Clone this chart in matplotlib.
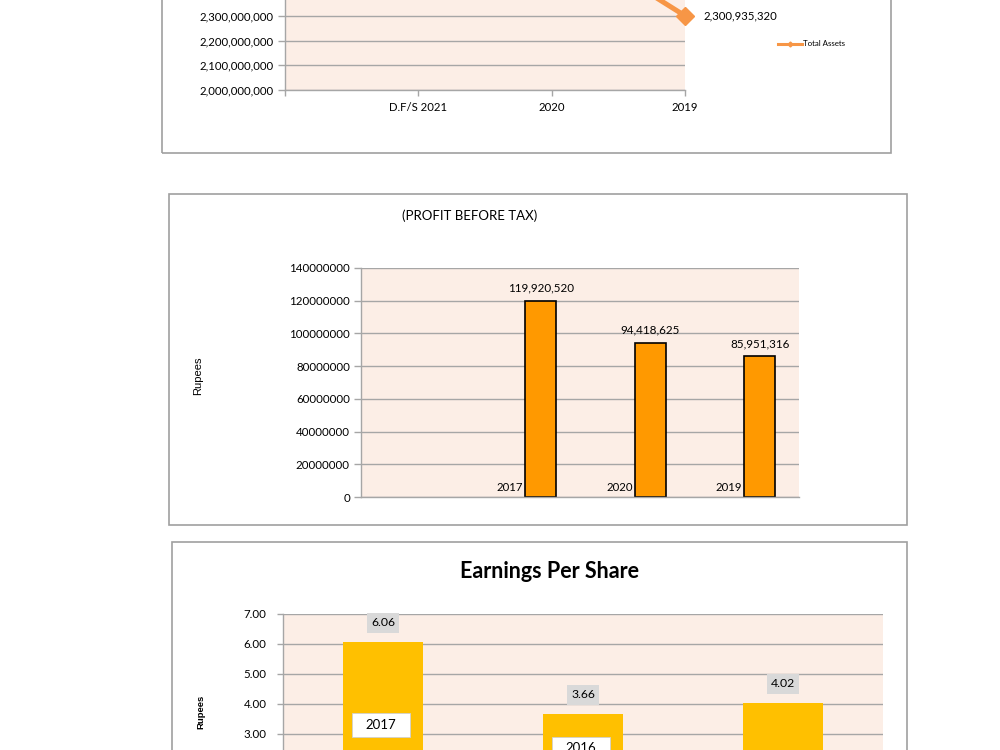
import numpy as np
import matplotlib
matplotlib.use('Agg')
from matplotlib import pyplot as plt
from matplotlib.patches import Rectangle
from matplotlib.lines import Line2D
from matplotlib.ticker import FuncFormatter

# --- data ---
asset_years = ['D.F/S 2021', '2020', '2019']
asset_values = [2950000000, 2640000000, 2300935320]

pbt_years = [2017, 2020, 2019]
pbt_values = [119920520, 94418625, 85951316]

eps_values = [6.06, 3.66, 4.02]
eps_year_labels = ['2017', '2016']
eps_year_label_pos = [3.30, 2.53]

W, H = 1000, 750
pink = '#FCEEE6'
grid_col = '#A6A6A6'
frame_col = '#A0A0A0'
line_col = '#F79646'

plt.rcParams['font.family'] = ['Lato', 'DejaVu Sans']
fig = plt.figure(figsize=(10, 7.5), dpi=100)


def px_axes(x0, y0, x1, y1):
    return fig.add_axes([x0 / W, 1 - y1 / H, (x1 - x0) / W, (y1 - y0) / H])


def frame(x0, y0, x1, y1):
    fig.patches.append(Rectangle((x0 / W, 1 - y1 / H), (x1 - x0) / W, (y1 - y0) / H,
                                 transform=fig.transFigure, fill=False,
                                 edgecolor=frame_col, lw=1.2))


def style(ax):
    ax.set_facecolor(pink)
    ax.set_axisbelow(True)
    for s in ['top', 'right']:
        ax.spines[s].set_visible(False)
    for s in ['left', 'bottom']:
        ax.spines[s].set_color(grid_col)
        ax.spines[s].set_linewidth(1.0)
    ax.yaxis.grid(True, color=grid_col, lw=1.0)
    ax.tick_params(colors=grid_col, labelcolor='black', width=1.0)


# ---------- Total assets (cut off at the top) ----------
frame(162, -50, 891, 153)
ax1 = px_axes(285, -58, 685, 90)
style(ax1)
x1 = np.arange(len(asset_years))
ax1.plot(x1, asset_values, color=line_col, lw=3.6, marker='D', markersize=9,
         clip_on=False)
ax1.set_xlim(-1, 2)
ax1.set_ylim(2.0e9, 2.6e9)
ax1.set_yticks(np.arange(2.0e9, 2.35e9, 1e8))
ax1.yaxis.set_major_formatter(FuncFormatter(lambda v, p: f'{v:,.0f}'))
ax1.set_xticks([-1, 0, 1, 2])
ax1.set_xticklabels([''] + asset_years)
ax1.tick_params(axis='y', length=5, pad=3, labelsize=8.2)
ax1.tick_params(axis='x', length=4, pad=4.5, labelsize=8.2)
ax1.annotate(f'{asset_values[-1]:,}', (x1[-1], asset_values[-1]), xytext=(13, 0),
             textcoords='offset points', ha='left', va='center', fontsize=8.2,
             annotation_clip=False)
leg_handle = Line2D([], [], color=line_col, lw=2.2, marker='D', markersize=2.5)
fig.legend([leg_handle], ['Total Assets'], loc='center left',
           bbox_to_anchor=(771 / W, 1 - 44 / H), frameon=False, fontsize=5.7,
           handlelength=3.0, handletextpad=0.1)

# ---------- Profit before tax ----------
frame(169, 194, 907, 525)
ax2 = px_axes(361, 268, 799, 497)
style(ax2)
x2 = np.arange(len(pbt_years))
w = 0.283
ax2.bar(x2 - w / 2, pbt_years, w, color=line_col, edgecolor='#F8C9A0', lw=0.8)
ax2.bar(x2 + w / 2, pbt_values, w, color='#FF9900', edgecolor='black', lw=1.2)
for xi, yr in zip(x2, pbt_years):
    ax2.annotate(str(yr), (xi - w / 2, yr), xytext=(0, 3), textcoords='offset points',
                 ha='center', va='bottom', fontsize=8.2)
for xi, v in zip(x2, pbt_values):
    ax2.annotate(f'{v:,}', (xi + w / 2, v), xytext=(0, 5), textcoords='offset points',
                 ha='center', va='bottom', fontsize=8.4)
ax2.set_xlim(-1.5, 2.5)
ax2.set_ylim(0, 140000000)
ax2.set_yticks(np.arange(0, 140000001, 20000000))
ax2.yaxis.set_major_formatter(FuncFormatter(lambda v, p: f'{v:.0f}'))
ax2.set_xticks([])
ax2.tick_params(axis='y', length=5, pad=3, labelsize=8.3)
fig.text(470 / W, 1 - 216 / H, '(PROFIT BEFORE TAX)', ha='center', va='center',
         fontsize=9.5)
fig.text(198 / W, 1 - 376 / H, 'Rupees', rotation=90, ha='center', va='center',
         family=['Liberation Sans', 'DejaVu Sans'], fontsize=8)

# ---------- Earnings per share (cut off at the bottom) ----------
frame(172, 542, 907, 800)
ax3 = px_axes(283, 614, 883, 824)
style(ax3)
x3 = np.arange(len(eps_values))
ax3.bar(x3, eps_values, 0.4, color='#FFC000')
for xi, v in zip(x3, eps_values):
    ax3.annotate(f'{v:.2f}', (xi, v), xytext=(0, 14), textcoords='offset points',
                 ha='center', va='center', fontsize=8.8,
                 bbox=dict(boxstyle='square,pad=0.35', fc='#D9D9D9', ec='none'))
box_w, box_h = 0.29, 0.77
for xi, lbl, pos in zip(x3, eps_year_labels, eps_year_label_pos):
    ax3.add_patch(Rectangle((xi - 0.01 - box_w / 2, pos - box_h / 2), box_w, box_h,
                            fc='white', ec='#D0D0D0', lw=0.6, zorder=3))
    ax3.text(xi - 0.01, pos, lbl, ha='center', va='center', fontsize=9.5, zorder=4)
ax3.set_xlim(-0.5, 2.5)
ax3.set_ylim(0, 7)
ax3.set_yticks(np.arange(3, 8, 1))
ax3.yaxis.set_major_formatter(FuncFormatter(lambda v, p: f'{v:.2f}'))
ax3.set_xticks([])
ax3.tick_params(axis='y', length=4, pad=8, labelsize=8.3)
fig.text(550 / W, 1 - 572 / H, 'Earnings Per Share', ha='center', va='center',
         fontsize=15.5, fontweight='bold')
fig.text(201 / W, 1 - 712 / H, 'Rupees', rotation=90, ha='center', va='center',
         family=['Liberation Sans', 'DejaVu Sans'], fontsize=6.8, fontweight='bold')

fig.savefig('out.png', dpi=100)
